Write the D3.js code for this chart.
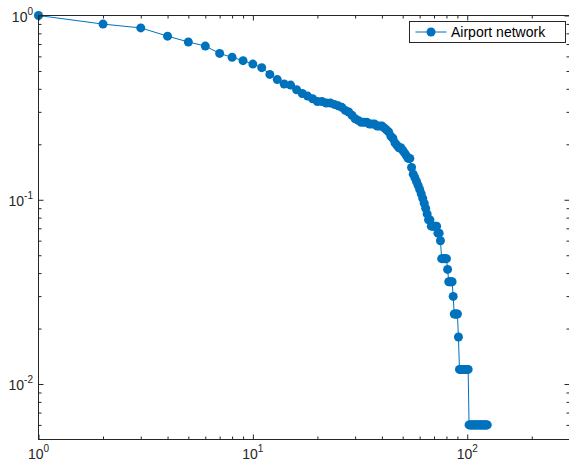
<!DOCTYPE html>
<html>
<head>
<meta charset="utf-8">
<title>Airport network</title>
<script src="https://d3js.org/d3.v7.min.js"></script>
<style>
  body { margin: 0; background: #fff; }
  svg { display: block; font-family: "Liberation Sans", Arial, sans-serif; }
</style>
</head>
<body>
<svg width="569" height="463"></svg>
<script>
// degree k and fraction of nodes with degree >= k
var degree = [1,2,3,4,5,6,7,8,9,10,11,12,13,14,15,16,17,18,19,20,
  21,22,23,24,25,26,27,28,29,30,31,32,33,34,35,36,37,38,39,40,
  41,42,43,44,45,46,47,48,49,50,51,52,53,54,55,56,57,58,59,60,
  61,62,63,64,65,66,67,68,69,70,71,72,73,74,75,76,77,78,79,80,
  81,82,83,84,85,86,87,88,89,90,91,92,93,94,95,96,97,98,99,100,
  101,102,103,104,105,106,107,108,109,110,111,112,113,114,115,116,117,118,119,120,
  121,122,123,124];
var ccdf = [1,0.8982,0.8563,0.7725,0.7186,0.6826,0.6228,0.5928,0.5689,0.5449,
  0.5210,0.4790,0.4491,0.4251,0.4192,0.3952,0.3772,0.3653,0.3533,0.3413,
  0.3413,0.3353,0.3353,0.3293,0.3234,0.3174,0.3054,0.2994,0.2874,0.2754,
  0.2695,0.2635,0.2635,0.2635,0.2575,0.2575,0.2575,0.2515,0.2515,0.2515,
  0.2455,0.2395,0.2335,0.2216,0.2156,0.2036,0.1976,0.1916,0.1916,0.1856,
  0.1796,0.1737,0.1677,0.1677,0.1497,0.1377,0.1317,0.1257,0.1198,0.1138,
  0.1078,0.1018,0.0958,0.0898,0.0838,0.0778,0.0778,0.0719,0.0719,0.0719,
  0.0719,0.0719,0.0659,0.0659,0.0599,0.0479,0.0479,0.0479,0.0479,0.0479,
  0.0419,0.0359,0.0359,0.0359,0.0359,0.0299,0.0240,0.0240,0.0240,0.0240,
  0.0180,0.0120,0.0120,0.0120,0.0120,0.0120,0.0120,0.0120,0.0120,0.0120,
  0.0120,0.0060,0.0060,0.0060,0.0060,0.0060,0.0060,0.0060,0.0060,0.0060,
  0.0060,0.0060,0.0060,0.0060,0.0060,0.0060,0.0060,0.0060,0.0060,0.0060,
  0.0060,0.0060,0.0060,0.0060];
var xMajor = [1, 10, 100];
var yMajor = [0.01, 0.1, 1];
var xMinor = [2,3,4,5,6,7,8,9,20,30,40,50,60,70,80,90,200];
var yMinor = [0.006,0.007,0.008,0.009,0.02,0.03,0.04,0.05,0.06,0.07,0.08,0.09,0.2,0.3,0.4,0.5,0.6,0.7,0.8,0.9];
var seriesName = "Airport network";

var svg = d3.select("svg");
var pL = 38.5, pR = 569.5, pT = 15.5, pB = 439.5;
var blue = "#0072BD", axisCol = "#262626";

var x = d3.scaleLog().domain([1, 300]).range([pL, pR]);
var y = d3.scaleLog().domain([0.005, 1]).range([pB, pT]);

// data line + markers
svg.append("path")
    .datum(degree.map(function(k, i) { return [k, ccdf[i]]; }))
    .attr("fill", "none")
    .attr("stroke", blue)
    .attr("stroke-width", 1)
    .attr("d", d3.line().x(function(d) { return x(d[0]); }).y(function(d) { return y(d[1]); }));

svg.append("g").selectAll("circle")
    .data(degree)
    .enter().append("circle")
      .attr("cx", function(d) { return x(d); })
      .attr("cy", function(d, i) { return y(ccdf[i]); })
      .attr("r", 4.5)
      .attr("fill", blue);

// box
svg.append("rect")
    .attr("x", pL).attr("y", pT)
    .attr("width", pR - pL).attr("height", pB - pT)
    .attr("fill", "none").attr("stroke", axisCol).attr("stroke-width", 1);

function ticks(g, axis) {
  g.call(axis);
  g.select(".domain").remove();
  g.selectAll("line").attr("stroke", axisCol);
  g.selectAll("text").remove();
}

svg.append("g").attr("transform", "translate(0," + pB + ")")
  .call(ticks, d3.axisBottom(x).tickValues(xMajor).tickSizeInner(-5).tickSizeOuter(0));
svg.append("g").attr("transform", "translate(0," + pB + ")")
  .call(ticks, d3.axisBottom(x).tickValues(xMinor).tickSizeInner(-3).tickSizeOuter(0));
svg.append("g").attr("transform", "translate(0," + pT + ")")
  .call(ticks, d3.axisTop(x).tickValues(xMajor).tickSizeInner(-5).tickSizeOuter(0));
svg.append("g").attr("transform", "translate(0," + pT + ")")
  .call(ticks, d3.axisTop(x).tickValues(xMinor).tickSizeInner(-3).tickSizeOuter(0));
svg.append("g").attr("transform", "translate(" + pL + ",0)")
  .call(ticks, d3.axisLeft(y).tickValues(yMajor).tickSizeInner(-5).tickSizeOuter(0));
svg.append("g").attr("transform", "translate(" + pL + ",0)")
  .call(ticks, d3.axisLeft(y).tickValues(yMinor).tickSizeInner(-3).tickSizeOuter(0));
svg.append("g").attr("transform", "translate(" + pR + ",0)")
  .call(ticks, d3.axisRight(y).tickValues(yMajor).tickSizeInner(-5).tickSizeOuter(0));
svg.append("g").attr("transform", "translate(" + pR + ",0)")
  .call(ticks, d3.axisRight(y).tickValues(yMinor).tickSizeInner(-3).tickSizeOuter(0));

// tick labels as 10^n
function expo(v) { return Math.round(Math.log10(v)); }

svg.append("g").selectAll("text")
    .data(xMajor)
    .enter().append("text")
      .attr("x", function(d) { return x(d); })
      .attr("y", 459)
      .attr("text-anchor", "middle")
      .attr("fill", axisCol)
      .attr("font-size", 14)
      .each(function(d) {
        var t = d3.select(this);
        t.append("tspan").text("10");
        t.append("tspan").attr("dy", -7).attr("font-size", 10).text(expo(d));
      });

svg.append("g").selectAll("text")
    .data(yMajor)
    .enter().append("text")
      .attr("x", 33)
      .attr("y", function(d) { return y(d) + 6; })
      .attr("text-anchor", "end")
      .attr("fill", axisCol)
      .attr("font-size", 14)
      .each(function(d) {
        var t = d3.select(this);
        t.append("tspan").text("10");
        t.append("tspan").attr("dy", -7).attr("font-size", 10).text(expo(d));
      });

// legend
var lg = svg.append("g").attr("transform", "translate(409.5,21.5)");
lg.append("rect").attr("width", 156).attr("height", 21)
    .attr("fill", "#fff").attr("stroke", axisCol).attr("stroke-width", 1);
lg.append("line").attr("x1", 6).attr("x2", 37).attr("y1", 10.5).attr("y2", 10.5)
    .attr("stroke", blue).attr("stroke-width", 1);
lg.append("circle").attr("cx", 21.5).attr("cy", 10.5).attr("r", 4.5).attr("fill", blue);
lg.append("text").attr("x", 41.5).attr("y", 15.5)
    .attr("font-size", 14).attr("fill", "#000").text(seriesName);
</script>
</body>
</html>
